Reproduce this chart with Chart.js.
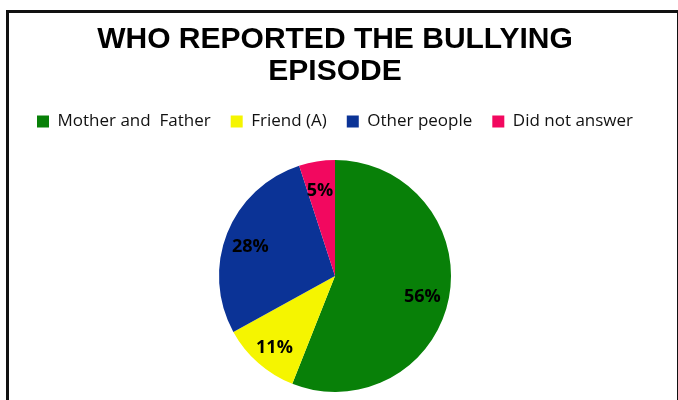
<!DOCTYPE html>
<html>
<head>
<meta charset="utf-8">
<script src="https://cdn.jsdelivr.net/npm/chart.js@4"></script>
<style>
    html, body { margin: 0; padding: 0; background: #fff; }
    #wrap { position: relative; width: 678px; height: 400px; }
    #frame {
        position: absolute; left: 6px; top: 10px; width: 668px; height: 400px;
        border-top: 3px solid #111; border-left: 3px solid #111; border-right: 2px solid #111;
        pointer-events: none;
    }
</style>
</head>
<body>
<div id="wrap">
    <canvas id="pie-chart" width="678" height="400"></canvas>
    <div id="frame"></div>
</div>
<script>
const TITLE   = ["WHO REPORTED THE BULLYING", "EPISODE"];
const LABELS  = ["Mother and  Father", "Friend (A)", "Other people", "Did not answer"];
const VALUES  = [56, 11, 28, 5];
const COLORS  = ["#088008", "#f5f500", "#0b3396", "#f2085f"];

// 扇形の中に % を描く
const pieLabels = {
    id: 'pieLabels',
    afterDatasetsDraw(chart) {
        const ctx  = chart.ctx;
        const meta = chart.getDatasetMeta(0);
        ctx.save();
        ctx.font = "bold 18px 'Open Sans'";
        ctx.fillStyle = "#000";
        ctx.textAlign = "center";
        ctx.textBaseline = "middle";
        meta.data.forEach((arc, i) => {
            const p = arc.getProps(['x', 'y', 'startAngle', 'endAngle', 'outerRadius']);
            const mid = (p.startAngle + p.endAngle) / 2;
            const r = p.outerRadius * 0.776;
            ctx.fillText(VALUES[i] + "%", p.x + Math.cos(mid) * r - 1, p.y + Math.sin(mid) * r + 4);
        });
        ctx.restore();
    }
};

// 凡例の下に余白を足す
const legendGap = {
    id: 'legendGap',
    beforeInit(chart) {
        const fit = chart.legend.fit;
        chart.legend.fit = function () {
            fit.bind(chart.legend)();
            this.height += 20;
        };
    }
};

const data = {
    labels: LABELS,
    datasets: [
        {
            data: VALUES,
            backgroundColor: COLORS,
            borderWidth: 0,
        }
    ],
};

const config = {
    type: 'pie',
    data: data,
    options: {
        responsive: false,
        animation: false,
        layout: {
            padding: { top: 0, left: 0, right: 8, bottom: 8 }
        },
        plugins: {
            title: {
                display: true,
                text: TITLE,
                color: "#000",
                font: { family: "'Liberation Sans', Arial", size: 30, weight: 'bold', lineHeight: 1.05 },
                padding: { top: 24, bottom: 6 },
            },
            legend: {
                position: 'top',
                labels: {
                    color: "#111",
                    boxWidth: 12,
                    boxHeight: 12,
                    padding: 20,
                    font: { family: "'Open Sans'", size: 17 },
                }
            },
            tooltip: { enabled: false },
        }
    },
    plugins: [pieLabels, legendGap],
};

const myChart = new Chart(
    document.getElementById("pie-chart"),
    config
);
</script>
</body>
</html>
